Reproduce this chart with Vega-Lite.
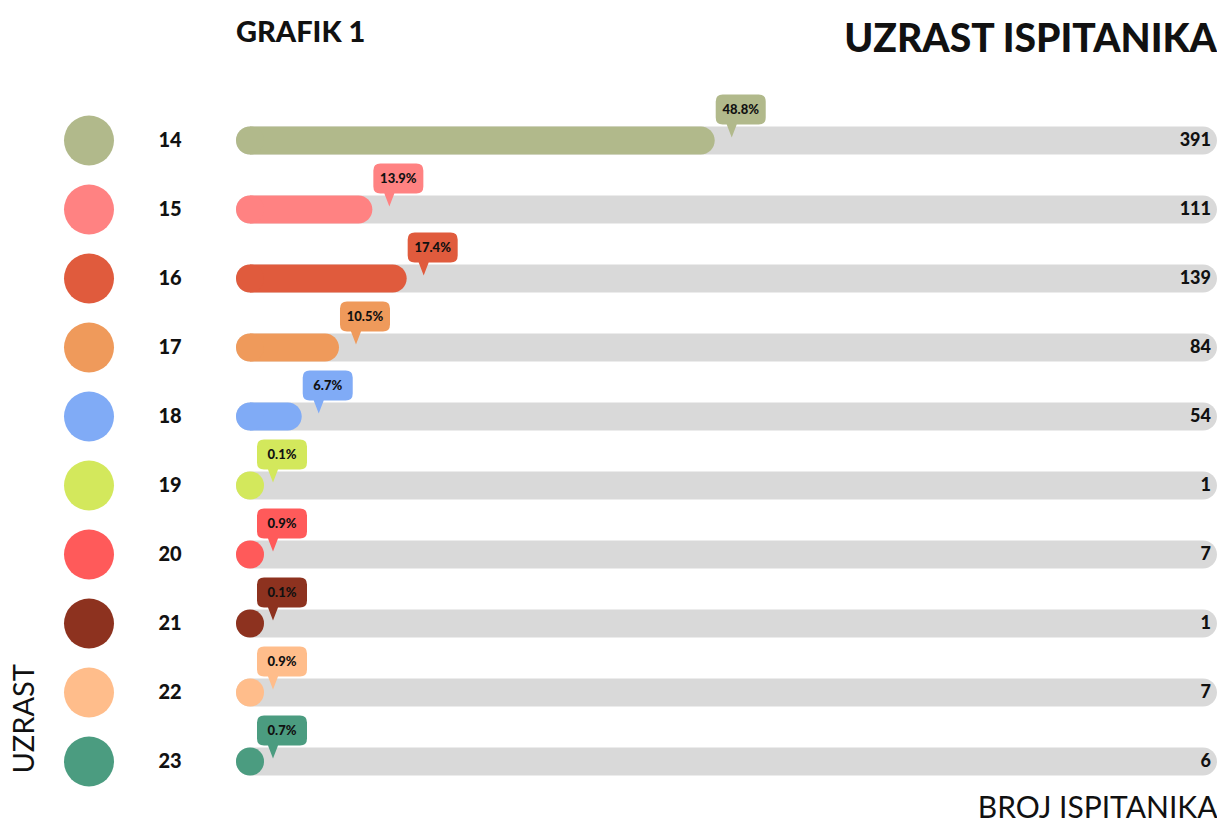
{
  "$schema": "https://vega.github.io/schema/vega-lite/v6.json",
  "background": "white",
  "padding": {"left": 10, "top": 18, "right": 0, "bottom": 0},
  "title": {"text": "UZRAST ISPITANIKA", "anchor": "end", "font": "Lato", "fontSize": 39, "fontWeight": 900, "color": "#111111", "offset": -41},
  "config": {
    "view": {"stroke": null},
    "font": "Lato",
    "axis": {"grid": false, "labels": false, "ticks": false, "domain": false}
  },
  "data": {
    "values": [
      {"age": "14", "count": 391, "pct": 0.488},
      {"age": "15", "count": 111, "pct": 0.139},
      {"age": "16", "count": 139, "pct": 0.174},
      {"age": "17", "count": 84, "pct": 0.105},
      {"age": "18", "count": 54, "pct": 0.067},
      {"age": "19", "count": 1, "pct": 0.001},
      {"age": "20", "count": 7, "pct": 0.009},
      {"age": "21", "count": 1, "pct": 0.001},
      {"age": "22", "count": 7, "pct": 0.009},
      {"age": "23", "count": 6, "pct": 0.007}
    ]
  },
  "bounds": "flush",
  "spacing": 10,
  "hconcat": [
    {
      "width": 30,
      "height": 690,
      "mark": {"type": "point", "filled": true, "size": 2500, "opacity": 1},
      "encoding": {
        "y": {"field": "age", "type": "ordinal", "scale": {"paddingInner": 0, "paddingOuter": 0},
          "axis": {"title": "UZRAST", "titleY": 667, "titleAngle": -90, "titleAlign": "left", "titleFont": "Lato", "titleFontSize": 29, "titleFontWeight": 400, "titleColor": "#111111", "titlePadding": 35}},
        "color": {"field": "age", "type": "nominal", "legend": null,
          "scale": {"domain": ["14","15","16","17","18","19","20","21","22","23"],
            "range": ["#b1b98b","#ff8282","#e05b3d","#ef9a5b","#80abf6","#d3e85c","#ff5a5a","#8d321f","#ffbd8b","#4b9c80"]}}
      }
    },
    {
      "width": 112,
      "height": 690,
      "mark": {"type": "text", "fontSize": 20, "fontWeight": 900, "align": "center", "baseline": "middle", "color": "#111111"},
      "encoding": {
        "y": {"field": "age", "type": "ordinal", "scale": {"paddingInner": 0, "paddingOuter": 0}, "axis": null},
        "text": {"field": "age"}
      }
    },
    {
      "width": 981,
      "height": 690,
      "title": {"text": "GRAFIK 1", "anchor": "start", "font": "Lato", "fontSize": 29, "fontWeight": 900, "color": "#111111", "offset": 47},
      "encoding": {
        "y": {"field": "age", "type": "ordinal", "scale": {"paddingInner": 0, "paddingOuter": 0}, "axis": null}
      },
      "resolve": {"scale": {"x": "independent"}},
      "layer": [
        {
          "mark": {"type": "bar", "color": "#d9d9d9", "cornerRadius": 14, "size": 28},
          "encoding": {
            "x": {"datum": 0, "type": "quantitative", "scale": {"domain": [0, 1], "nice": false},
              "axis": {"title": "BROJ ISPITANIKA", "titleAnchor": "end", "titleFont": "Lato", "titleFontSize": 30, "titleFontWeight": 400, "titleColor": "#111111", "titlePadding": -3}},
            "x2": {"datum": 1}
          }
        },
        {
          "mark": {"type": "bar", "cornerRadiusTopRight": 14, "cornerRadiusBottomRight": 14, "size": 28},
          "encoding": {
            "x": {"field": "pct", "type": "quantitative", "scale": {"domain": [0, 0.01427, 1], "range": [14, 14, 981], "nice": false, "zero": false}, "axis": null},
            "x2": {"datum": 0},
            "color": {"field": "age", "type": "nominal", "legend": null}
          }
        },
        {
          "mark": {"type": "point", "filled": true, "size": 784, "opacity": 1, "xOffset": 14},
          "encoding": {
            "x": {"datum": 0, "type": "quantitative", "scale": {"domain": [0, 1], "nice": false}, "axis": null},
            "color": {"field": "age", "type": "nominal", "legend": null}
          }
        },
        {
          "mark": {"type": "point", "filled": true, "opacity": 1, "size": 4,
            "shape": "M8,-46 H44 Q51,-46 51,-39 V-23 Q51,-16 44,-16 H22 L17,-3 L12,-16 H8 Q1,-16 1,-23 V-39 Q1,-46 8,-46 Z"},
          "encoding": {
            "x": {"field": "pct", "type": "quantitative", "scale": {"domain": [0, 0.0204, 1], "range": [20, 20, 981], "nice": false, "zero": false}, "axis": null},
            "color": {"field": "age", "type": "nominal", "legend": null}
          }
        },
        {
          "mark": {"type": "text", "dx": 26, "dy": -31, "fontSize": 13, "fontWeight": 900, "align": "center", "baseline": "middle", "color": "#111111"},
          "encoding": {
            "x": {"field": "pct", "type": "quantitative", "scale": {"domain": [0, 0.0204, 1], "range": [20, 20, 981], "nice": false, "zero": false}, "axis": null},
            "text": {"field": "pct", "type": "quantitative", "format": ".1%"}
          }
        },
        {
          "mark": {"type": "text", "dx": -6, "fontSize": 18, "fontWeight": 900, "align": "right", "baseline": "middle", "color": "#111111"},
          "encoding": {
            "x": {"datum": 1, "type": "quantitative", "scale": {"domain": [0, 1], "nice": false}, "axis": null},
            "text": {"field": "count", "type": "quantitative"}
          }
        }
      ]
    }
  ]
}
